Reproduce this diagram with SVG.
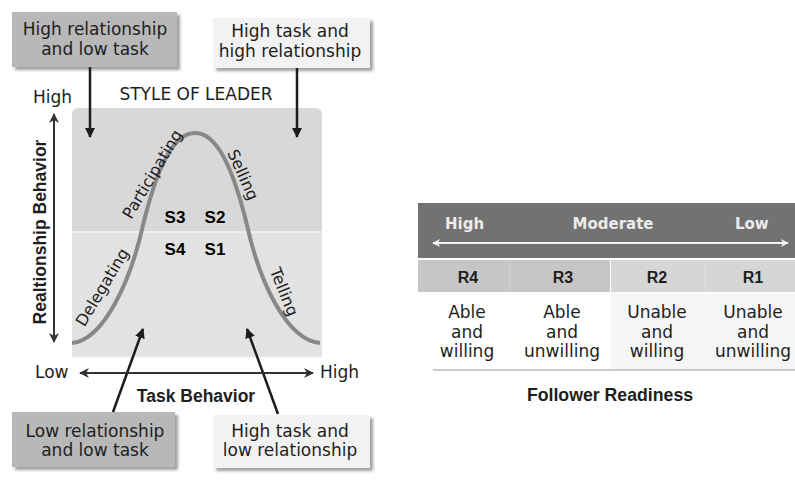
<svg xmlns="http://www.w3.org/2000/svg" width="795" height="482" viewBox="0 0 795 482">
<style>
  .t{font-family:"DejaVu Sans",sans-serif;fill:#1e1e1e}
  .box{font-size:17px}
  .b{font-family:"Liberation Sans",Arial,sans-serif;font-weight:bold}
  .mid{text-anchor:middle}
  .dark{fill:#b8b8b8}
  .light{fill:#f2f2f2}
  .arr{stroke:#1c1c1c;stroke-width:2.5;fill:none}
  .axis{stroke:#333;stroke-width:2;fill:none}
  .hdr{font-family:"DejaVu Sans",sans-serif;font-weight:bold;font-size:15px;fill:#ececec}
  .cell{font-size:17px}
</style>
<defs>
  <filter id="sh" x="-10%" y="-10%" width="125%" height="135%">
    <feDropShadow dx="3" dy="3" stdDeviation="1.5" flood-color="#777" flood-opacity="0.7"/>
  </filter>
  <marker id="ah" viewBox="0 0 10 10" refX="9" refY="5" markerWidth="4" markerHeight="4.5" orient="auto" markerUnits="strokeWidth">
    <path d="M0,0 L10,5 L0,10 Z" fill="#1c1c1c"/>
  </marker>
  <marker id="ax" viewBox="0 0 10 10" refX="9" refY="5" markerWidth="5" markerHeight="5" orient="auto-start-reverse" markerUnits="strokeWidth">
    <path d="M0,0 L10,5 L0,10 L3,5 Z" fill="#333"/>
  </marker>
  <marker id="wx" viewBox="0 0 10 10" refX="9" refY="5" markerWidth="6" markerHeight="4" orient="auto-start-reverse" markerUnits="strokeWidth">
    <path d="M0,0 L10,5 L0,10 L3,5 Z" fill="#f4f4f4"/>
  </marker>
</defs>
<rect width="795" height="482" fill="#ffffff"/>

<!-- panel -->
<g id="panel">
  <rect x="72" y="108" width="250" height="130" rx="6" fill="#d8d8d8"/>
  <rect x="72" y="232" width="250" height="125" fill="#e2e2e2"/>
  <line x1="72" y1="232" x2="322" y2="232" stroke="#f4f4f4" stroke-width="1.5"/>
  <line x1="72" y1="357" x2="322" y2="357" stroke="#f0f0f0" stroke-width="1.5"/>
  <path d="M72,343 C104,340 131,280 143,225 C157,168 173,133 195,133 C217,133 233,168 247,225 C259,280 286,340 320,343" fill="none" stroke="#888" stroke-width="4"/>
  <text class="t" font-size="16" text-anchor="middle" transform="translate(157,177) rotate(-59)">Participating</text>
  <text class="t" font-size="16" text-anchor="middle" transform="translate(238,177) rotate(66)">Selling</text>
  <text class="t" font-size="16" text-anchor="middle" transform="translate(107,290) rotate(-59)">Delegating</text>
  <text class="t" font-size="16" text-anchor="middle" transform="translate(279,294) rotate(68)">Telling</text>
  <text class="b mid" font-size="17" x="175" y="223">S3</text>
  <text class="b mid" font-size="17" x="215" y="223">S2</text>
  <text class="b mid" font-size="17" x="175" y="255">S4</text>
  <text class="b mid" font-size="17" x="215" y="255">S1</text>
</g>

<g id="labels">
  <text class="t mid" font-size="17" x="196" y="100">STYLE OF LEADER</text>
  <text class="t" font-size="17" x="33" y="103">High</text>
  <text class="t" font-size="17" x="35" y="378">Low</text>
  <text class="t" font-size="17" x="320" y="378">High</text>
  <text class="b mid" font-size="17.5" x="196" y="402" fill="#1e1e1e">Task Behavior</text>
  <text class="b mid" font-size="17.5" fill="#1e1e1e" transform="translate(46,232) rotate(-90)">Realtionship Behavior</text>
</g>

<g id="box-hr-lt">
  <rect x="12" y="12" width="165" height="55" class="dark" filter="url(#sh)"/>
  <text class="t box mid" x="95" y="35">High relationship</text>
  <text class="t box mid" x="95" y="55">and low task</text>
</g>
<g id="box-ht-hr">
  <rect x="213" y="18" width="157" height="50" class="light" filter="url(#sh)"/>
  <text class="t box mid" x="290" y="37">High task and</text>
  <text class="t box mid" x="290" y="57">high relationship</text>
</g>
<g id="box-lr-lt">
  <rect x="12" y="412" width="163" height="55" class="dark" filter="url(#sh)"/>
  <text class="t box mid" x="95" y="437">Low relationship</text>
  <text class="t box mid" x="95" y="456">and low task</text>
</g>
<g id="box-ht-lr">
  <rect x="213" y="415" width="157" height="53" class="light" filter="url(#sh)"/>
  <text class="t box mid" x="290" y="437">High task and</text>
  <text class="t box mid" x="290" y="456">low relationship</text>
</g>

<g id="connectors">
  <line class="arr" x1="90" y1="67" x2="90" y2="137" marker-end="url(#ah)"/>
  <line class="arr" x1="297" y1="68" x2="297" y2="137" marker-end="url(#ah)"/>
  <line class="arr" x1="113" y1="412" x2="143" y2="329" marker-end="url(#ah)"/>
  <line class="arr" x1="278" y1="414" x2="247" y2="329" marker-end="url(#ah)"/>
  <line class="axis" x1="54" y1="114" x2="54" y2="342" marker-start="url(#ax)" marker-end="url(#ax)"/>
  <line class="axis" x1="80" y1="373" x2="313" y2="373" marker-start="url(#ax)" marker-end="url(#ax)"/>
</g>

<g id="readiness">
  <rect x="418" y="203" width="377" height="55" fill="#727272"/>
  <text class="hdr" x="445" y="229">High</text>
  <text class="hdr" x="613" y="229" text-anchor="middle">Moderate</text>
  <text class="hdr" x="735" y="229">Low</text>
  <line x1="433" y1="243" x2="788" y2="243" stroke="#f4f4f4" stroke-width="2" marker-start="url(#wx)" marker-end="url(#wx)"/>
  <rect x="418" y="260" width="192" height="32" fill="#c6c6c6"/>
  <rect x="611" y="260" width="184" height="32" fill="#d6d6d6"/>
  <line x1="510" y1="260" x2="510" y2="292" stroke="#d4d4d4" stroke-width="1"/>
  <line x1="705" y1="260" x2="705" y2="292" stroke="#e0e0e0" stroke-width="1"/>
  <rect x="611" y="293" width="184" height="76" fill="#f6f6f6"/>
  <text class="b mid" font-size="16" fill="#1e1e1e" x="468" y="283">R4</text>
  <text class="b mid" font-size="16" fill="#1e1e1e" x="563" y="283">R3</text>
  <text class="b mid" font-size="16" fill="#1e1e1e" x="657" y="283">R2</text>
  <text class="b mid" font-size="16" fill="#1e1e1e" x="753" y="283">R1</text>
  <g class="t cell mid">
    <text x="467" y="318">Able</text>
    <text x="467" y="338">and</text>
    <text x="467" y="357">willing</text>
    <text x="562" y="318">Able</text>
    <text x="562" y="338">and</text>
    <text x="562" y="357">unwilling</text>
    <text x="657" y="318">Unable</text>
    <text x="657" y="338">and</text>
    <text x="657" y="357">willing</text>
    <text x="753" y="318">Unable</text>
    <text x="753" y="338">and</text>
    <text x="753" y="357">unwilling</text>
  </g>
  <line x1="433" y1="370" x2="795" y2="370" stroke="#bbb" stroke-width="1.5"/>
  <text class="b mid" font-size="17.7" fill="#1e1e1e" x="610" y="401">Follower Readiness</text>
</g>
</svg>
